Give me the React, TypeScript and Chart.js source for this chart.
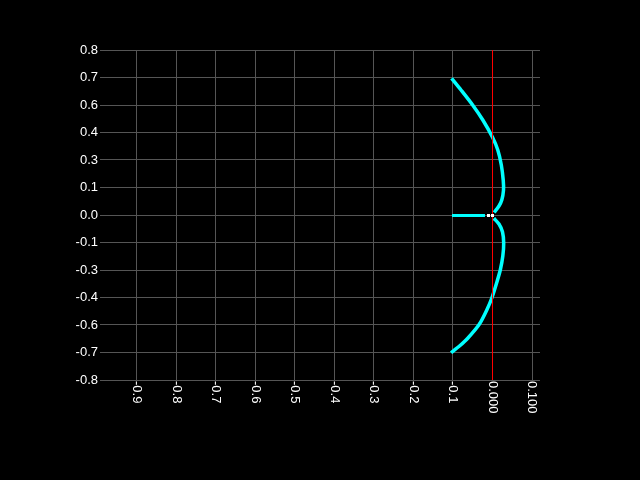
import React, { useEffect, useRef } from 'react';
import { Chart, registerables } from 'chart.js';

Chart.register(...registerables);

// Axis ticks and labels
const X_TICKS = [-0.9, -0.8, -0.7, -0.6, -0.5, -0.4, -0.3, -0.2, -0.1, 0.0, 0.1];
const X_LABELS = ['-0.9', '-0.8', '-0.7', '-0.6', '-0.5', '-0.4', '-0.3', '-0.2', '-0.1', '0.000', '0.100'];
const Y_TICKS = [0.8, 0.6667, 0.5333, 0.4, 0.2667, 0.1333, 0, -0.1333, -0.2667, -0.4, -0.5333, -0.6667, -0.8];
const Y_LABELS = ['0.8', '0.7', '0.6', '0.4', '0.3', '0.1', '0.0', '-0.1', '-0.3', '-0.4', '-0.6', '-0.7', '-0.8'];
const X_MIN = -0.99292;
const X_MAX = 0.12016;
const Y_MIN = -0.8;
const Y_MAX = 0.8;

// Root locus branches
const UPPER_X = [-0.1035, -0.0797, -0.0503, -0.0245, 0.0, 0.0134, 0.0223, 0.0271, 0.0278, 0.0235, 0.0164, 0.0043];
const UPPER_Y = [0.6628, 0.6061, 0.5333, 0.4606, 0.3767, 0.3152, 0.2424, 0.1697, 0.1212, 0.0727, 0.0436, 0.0121];
const LOWER_X = [0.0033, 0.0164, 0.0253, 0.0283, 0.0261, 0.0197, 0.0104, -0.0008, -0.0144, -0.0334, -0.0632, -0.0835, -0.105];
const LOWER_Y = [-0.016, -0.0436, -0.0824, -0.1358, -0.1988, -0.2667, -0.3297, -0.3976, -0.4606, -0.5299, -0.5988, -0.6352, -0.6676];
const REAL_X = [-0.1025, -0.019];
const REAL_Y = [-0.0024, -0.0024];
// Pole markers
const MARK_X = [-0.0101, 0.0];
const MARK_Y = [-0.0024, -0.0024];
// Imaginary axis (red)
const IMAG_X = [0, 0];
const IMAG_Y = [-0.8, 0.8];

const zip = (xs: number[], ys: number[]) => xs.map((x, i) => ({ x, y: ys[i] }));

const FONT_FAMILY = '"Liberation Sans", Arial, sans-serif';
const GRID = '#555555';
const CYAN = '#00ffff';

const xLabelPlugin = {
  id: 'xLabelsRotated',
  afterDraw(chart: any) {
    const xs = chart.scales.x;
    const ctx = chart.ctx;
    const top = chart.chartArea.bottom + 1;
    ctx.save();
    ctx.fillStyle = '#ffffff';
    ctx.font = `13px ${FONT_FAMILY}`;
    ctx.textAlign = 'left';
    ctx.textBaseline = 'middle';
    X_TICKS.forEach((v, i) => {
      const px = xs.getPixelForValue(v);
      ctx.save();
      ctx.translate(px, top);
      ctx.rotate(Math.PI / 2);
      ctx.fillText(X_LABELS[i], 0, 0);
      ctx.restore();
    });
    ctx.restore();
  },
};

export default function App() {
  const ref = useRef<HTMLCanvasElement>(null);

  useEffect(() => {
    if (!ref.current) return;
    const chart = new Chart(ref.current, {
      type: 'line',
      data: {
        datasets: [
          {
            data: zip(MARK_X, MARK_Y),
            showLine: false,
            pointStyle: 'rect',
            pointRadius: 2.13,
            pointBorderWidth: 0,
            pointBackgroundColor: '#ffffff',
            borderColor: '#ffffff',
          },
          {
            data: zip(IMAG_X, IMAG_Y),
            borderColor: '#ff0000',
            borderWidth: 1,
            pointRadius: 0,
            tension: 0,
          },
          {
            data: zip(UPPER_X, UPPER_Y),
            borderColor: CYAN,
            borderWidth: 3.5,
            pointRadius: 0,
            tension: 0.25,
          },
          {
            data: zip(LOWER_X, LOWER_Y),
            borderColor: CYAN,
            borderWidth: 3.5,
            pointRadius: 0,
            tension: 0.25,
          },
          {
            data: zip(REAL_X, REAL_Y),
            borderColor: CYAN,
            borderWidth: 3,
            pointRadius: 0,
            tension: 0,
          },
        ],
      },
      options: {
        animation: false,
        responsive: false,
        maintainAspectRatio: false,
        parsing: false as any,
        layout: { padding: { top: 50, right: 100, left: 0, bottom: 0 } },
        plugins: {
          legend: { display: false },
          tooltip: { enabled: false },
        },
        scales: {
          x: {
            type: 'linear',
            min: X_MIN,
            max: X_MAX,
            afterBuildTicks: (scale: any) => {
              scale.ticks = X_TICKS.map((v) => ({ value: v }));
            },
            afterFit: (scale: any) => {
              scale.height = 100;
            },
            ticks: { display: false },
            grid: { color: GRID, lineWidth: 1, drawTicks: false },
            border: { display: false },
          },
          y: {
            type: 'linear',
            min: Y_MIN,
            max: Y_MAX,
            afterBuildTicks: (scale: any) => {
              scale.ticks = Y_TICKS.map((v) => ({ value: v }));
            },
            afterFit: (scale: any) => {
              scale.width = 100;
            },
            ticks: {
              autoSkip: false,
              color: '#ffffff',
              padding: 2,
              font: { family: FONT_FAMILY, size: 13 },
              callback: (_v: any, i: number) => Y_LABELS[i],
            },
            grid: { color: GRID, lineWidth: 1, drawTicks: false },
            border: { display: false },
          },
        },
      },
      plugins: [xLabelPlugin],
    } as any);
    return () => chart.destroy();
  }, []);

  return (
    <div style={{ position: 'fixed', left: 0, top: 0, width: 640, height: 480, background: '#000000' }}>
      <canvas ref={ref} width={640} height={480} style={{ display: 'block' }} />
    </div>
  );
}
